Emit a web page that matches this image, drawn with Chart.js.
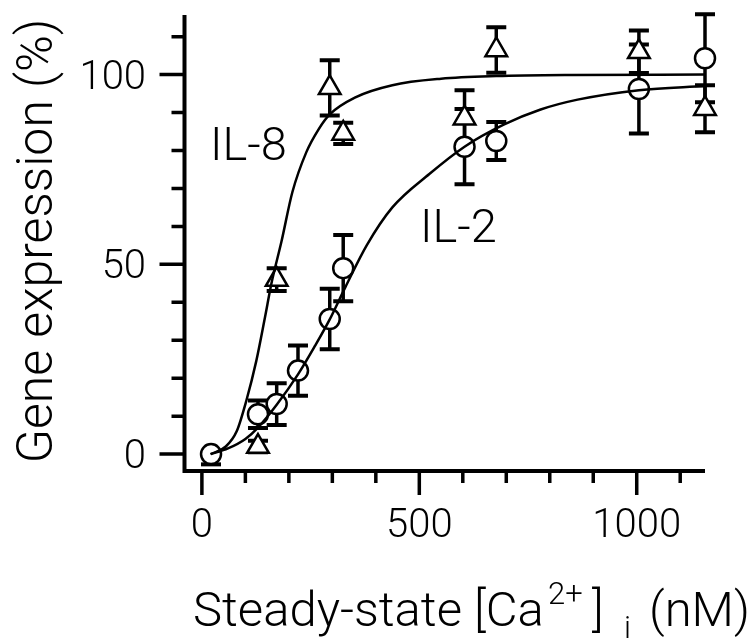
<!DOCTYPE html>
<html lang="en">
<head>
    <meta charset="UTF-8">
    <title>Gene expression vs steady-state Ca2+</title>
    <script src="https://cdn.jsdelivr.net/npm/chart.js"></script>
    <style>
        body { margin: 0; background: #fff; }
    </style>
</head>
<body>
    <canvas id="Chart" width="748" height="638"></canvas>

    <script>
        // IL-8 measurements (triangles), error = +/- half range
        const il8X      = [129, 172, 294, 325, 604, 677, 1005, 1157];
        const il8Y      = [2, 46, 96.5, 84.5, 88.5, 106.5, 106, 91];
        const il8ErrUp  = [1.5, 3, 7.3, 2.8, 7.4, 6, 5.6, 6.2];
        const il8ErrDn  = [1.5, 3, 7.3, 2.8, 7.4, 6, 5.6, 6.2];

        // IL-2 measurements (circles)
        const il2X      = [21, 129, 172, 221, 294, 325, 604, 677, 1005, 1157];
        const il2Y      = [0, 10.5, 13.2, 22, 35.6, 49, 81, 82.5, 96.2, 104.3];
        const il2ErrUp  = [0, 3.6, 5.5, 6.6, 8, 8.7, 9.9, 5, 11.7, 11.6];
        const il2ErrDn  = [2.7, 3.6, 5.5, 6.6, 8, 8.7, 9.9, 5, 11.7, 11.6];

        // fitted curves
        const il8CurveX = [20, 55, 80, 102, 125, 145, 160, 183, 208, 240, 268, 294, 353, 438, 550, 677, 850, 1157];
        const il8CurveY = [0, 2, 6, 14, 24.5, 36, 45, 56, 69, 79.5, 85.5, 89.5, 94, 97.2, 98.9, 99.6, 99.9, 100];
        const il2CurveX = [20, 60, 100, 129, 172, 221, 260, 294, 330, 379, 438, 523, 604, 694, 779, 864, 1005, 1157];
        const il2CurveY = [0, 1.5, 4, 7, 13, 21, 28.5, 35.5, 44, 55, 65, 73.8, 81, 86.8, 90.8, 93.4, 95.9, 97];

        // tick positions; only the labelled ones get long marks
        const xTicks = [0, 100, 200, 300, 400, 500, 600, 700, 800, 900, 1000, 1100];
        const yTicks = [0, 10, 20, 30, 40, 50, 60, 70, 80, 90, 100, 110];
        const xLabelTicks = [0, 500, 1000];
        const yLabelTicks = [0, 50, 100];

        const FONT = "Roboto, 'Liberation Sans', sans-serif";

        const pts = (xs, ys) => xs.map((x, i) => ({ x: x, y: ys[i] }));

        // error bars go under the markers
        const errorBars = {
            id: 'errorBars',
            beforeDatasetsDraw(chart) {
                const ctx = chart.ctx;
                const xs = chart.scales.x, ys = chart.scales.y;
                ctx.save();
                ctx.strokeStyle = '#000';
                chart.data.datasets.forEach(ds => {
                    if (!ds.errUp) return;
                    ds.data.forEach((p, i) => {
                        const px = xs.getPixelForValue(p.x);
                        const top = ys.getPixelForValue(p.y + ds.errUp[i]);
                        const bot = ys.getPixelForValue(p.y - ds.errDn[i]);
                        ctx.lineWidth = 3.5;
                        ctx.beginPath();
                        ctx.moveTo(px, top);
                        ctx.lineTo(px, bot);
                        ctx.stroke();
                        ctx.lineWidth = 4;
                        ctx.beginPath();
                        if (ds.errUp[i] > 0) { ctx.moveTo(px - 10, top); ctx.lineTo(px + 10, top); }
                        if (ds.errDn[i] > 0) { ctx.moveTo(px - 10, bot); ctx.lineTo(px + 10, bot); }
                        ctx.stroke();
                    });
                });
                ctx.restore();
            }
        };

        // axis lines, ticks, tick labels, titles and curve labels
        const frame = {
            id: 'frame',
            afterDraw(chart) {
                const ctx = chart.ctx;
                const a = chart.chartArea;
                const xs = chart.scales.x, ys = chart.scales.y;
                ctx.save();
                ctx.strokeStyle = '#000';
                ctx.lineWidth = 4;
                ctx.beginPath();
                ctx.moveTo(a.left, a.top);
                ctx.lineTo(a.left, a.bottom + 2);
                ctx.moveTo(a.left - 2, a.bottom);
                ctx.lineTo(a.right, a.bottom);
                ctx.stroke();

                ctx.lineWidth = 3.5;
                ctx.beginPath();
                xTicks.forEach(v => {
                    const px = xs.getPixelForValue(v);
                    const len = xLabelTicks.includes(v) ? 24 : 12;
                    ctx.moveTo(px, a.bottom);
                    ctx.lineTo(px, a.bottom + len);
                });
                yTicks.forEach(v => {
                    const py = ys.getPixelForValue(v);
                    const len = yLabelTicks.includes(v) ? 25 : 13;
                    ctx.moveTo(a.left, py);
                    ctx.lineTo(a.left - len, py);
                });
                ctx.stroke();

                ctx.fillStyle = '#000';
                ctx.font = '300 40px ' + FONT;
                ctx.textBaseline = 'alphabetic';
                ctx.textAlign = 'center';
                xLabelTicks.forEach(v => {
                    ctx.fillText(String(v), xs.getPixelForValue(v), 537);
                });
                ctx.textAlign = 'right';
                yLabelTicks.forEach(v => {
                    ctx.fillText(String(v), 146, ys.getPixelForValue(v) + 14);
                });

                ctx.textAlign = 'left';
                ctx.font = '300 47px ' + FONT;
                ctx.fillText('IL-8', 210, 160);
                ctx.fillText('IL-2', 420, 242);

                // y title
                ctx.save();
                ctx.translate(52, 241);
                ctx.rotate(-Math.PI / 2);
                ctx.textAlign = 'center';
                ctx.font = '300 50px ' + FONT;
                ctx.fillText('Gene expression (%)', 0, 0);
                ctx.restore();

                // x title with superscript/subscript
                const base = 626;
                const big = '300 49px ' + FONT, small = '300 31px ' + FONT;
                ctx.textAlign = 'left';
                ctx.font = big;
                ctx.fillText('Steady-state [Ca', 193, base);
                ctx.font = small;
                ctx.fillText('2+', 548, base - 22);
                ctx.font = big;
                ctx.fillText(']', 592, base);
                ctx.font = small;
                ctx.fillText('i', 624, base + 12);
                ctx.font = big;
                ctx.fillText('(nM)', 649, base);
                ctx.restore();
            }
        };

        const ctx = document.getElementById('Chart').getContext('2d');
        const chart = new Chart(ctx, {
            type: 'scatter',
            data: {
                datasets: [
                    {
                        label: 'IL-8 fit',
                        data: pts(il8CurveX, il8CurveY),
                        showLine: true,
                        borderColor: '#000',
                        borderWidth: 2.5,
                        pointRadius: 0,
                        cubicInterpolationMode: 'monotone',
                        clip: false
                    },
                    {
                        label: 'IL-2 fit',
                        data: pts(il2CurveX, il2CurveY),
                        showLine: true,
                        borderColor: '#000',
                        borderWidth: 2.5,
                        pointRadius: 0,
                        cubicInterpolationMode: 'monotone',
                        clip: false
                    },
                    {
                        label: 'IL-8',
                        data: pts(il8X, il8Y),
                        errUp: il8ErrUp,
                        errDn: il8ErrDn,
                        pointStyle: 'triangle',
                        pointRadius: 12.5,
                        pointBorderWidth: 2.5,
                        pointBorderColor: '#000',
                        pointBackgroundColor: '#fff',
                        clip: false
                    },
                    {
                        label: 'IL-2',
                        data: pts(il2X, il2Y),
                        errUp: il2ErrUp,
                        errDn: il2ErrDn,
                        pointStyle: 'circle',
                        pointRadius: 10,
                        pointBorderWidth: 2.5,
                        pointBorderColor: '#000',
                        pointBackgroundColor: '#fff',
                        clip: false
                    }
                ]
            },
            options: {
                responsive: false,
                animation: false,
                layout: { padding: { left: 0, top: 12, right: 43, bottom: 167 } },
                scales: {
                    x: {
                        type: 'linear',
                        min: -40,
                        max: 1157,
                        afterFit: s => { s.height = 0; },
                        grid: { display: false },
                        border: { display: false },
                        ticks: { display: false }
                    },
                    y: {
                        type: 'linear',
                        min: -4.45,
                        max: 115.7,
                        afterFit: s => { s.width = 184.5; },
                        grid: { display: false },
                        border: { display: false },
                        ticks: { display: false }
                    }
                },
                plugins: {
                    legend: { display: false },
                    tooltip: { enabled: false }
                }
            },
            plugins: [errorBars, frame]
        });
    </script>
</body>
</html>
